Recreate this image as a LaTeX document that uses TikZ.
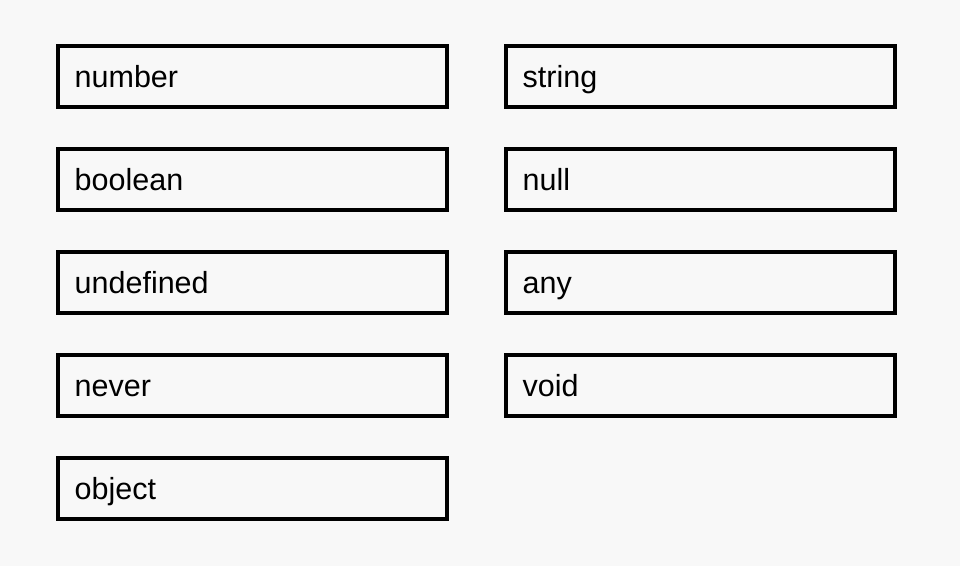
\documentclass[tikz,border=0pt]{standalone}
\usepackage{fontspec}
\setmainfont{Liberation Sans}
\definecolor{bg}{HTML}{F8F8F8}
\begin{document}
\begin{tikzpicture}[x=1pt,y=-1pt,
  typebox/.style={draw=black,line width=4pt,fill=bg},
  typelabel/.style={anchor=base west,inner sep=0pt,font=\fontsize{30.5}{35}\selectfont}]
\fill[bg] (0,0) rectangle (960,566);
\useasboundingbox (0,0) rectangle (960,566);
\foreach \name/\col/\row in {number/0/0,boolean/0/1,undefined/0/2,never/0/3,object/0/4,string/1/0,null/1/1,any/1/2,void/1/3}{
  \pgfmathsetmacro{\xa}{58+448*\col}
  \pgfmathsetmacro{\ya}{46+103*\row}
  \draw[typebox] (\xa,\ya) rectangle ++(389,61);
  \node[typelabel] (\name) at (\xa+16.5,\ya+41) {\name};
}
\end{tikzpicture}
\end{document}
